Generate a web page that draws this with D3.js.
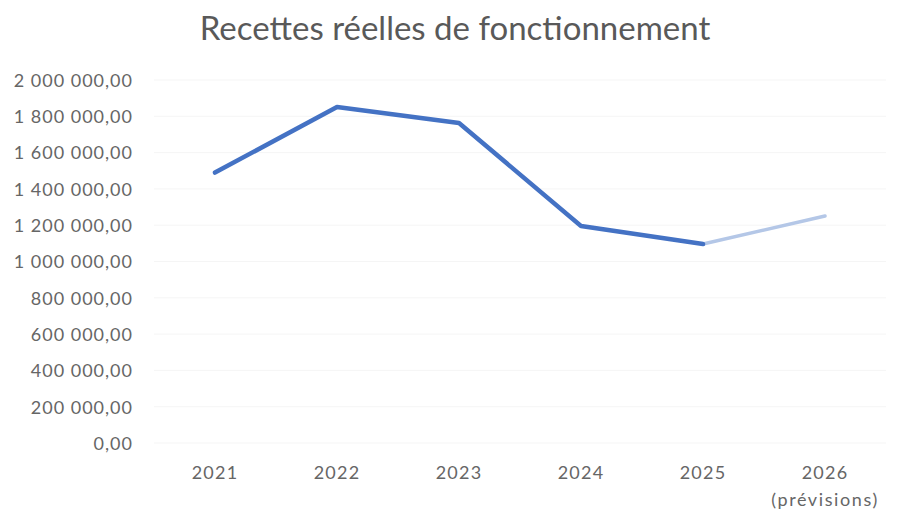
<!DOCTYPE html>
<html>
<head>
<meta charset="utf-8">
<script src="https://cdn.jsdelivr.net/npm/d3@7"></script>
<style>
  body { margin: 0; background: #fff; }
  svg { display: block; }
  svg text { font-family: Lato, "Open Sans", sans-serif; }
  .tick text { fill: #666; }
</style>
</head>
<body>
<script>
const years = ["2021", "2022", "2023", "2024", "2025", "2026"];
const yearNotes = ["", "", "", "", "", "(prévisions)"];
const recettes = [1490000, 1851000, 1763000, 1196000, 1096000, 1251000];
const yTicks = [0, 200000, 400000, 600000, 800000, 1000000, 1200000, 1400000, 1600000, 1800000, 2000000];

const width = 909, height = 512;

// French style number: "1 800 000,00"
function frNum(v) {
    let parts = v.toFixed(2).split(".");
    let intPart = parts[0].replace(/\B(?=(\d{3})+(?!\d))/g, " ");
    return intPart + "," + parts[1];
}

const svg = d3.select("body")
    .append("svg")
    .attr("width", width)
    .attr("height", height);

let x = d3.scaleBand()
    .domain(years)
    .range([154, 886]);

let y = d3.scaleLinear()
    .domain([0, 2000000])
    .range([443, 80]);

// faint gridlines
svg.append("g")
    .selectAll("line")
    .data(yTicks)
    .enter()
    .append("line")
    .attr("x1", 154)
    .attr("x2", 886)
    .attr("y1", d => y(d))
    .attr("y2", d => y(d))
    .attr("stroke", "#f5f5f5")
    .attr("stroke-width", 1);

// y axis labels
svg.append("g")
    .attr("transform", "translate(133,0)")
    .call(d3.axisLeft(y).tickValues(yTicks).tickFormat(frNum).tickSize(0).tickPadding(0))
    .call(g => g.select(".domain").remove())
    .selectAll("text")
    .attr("font-size", 18)
    .attr("letter-spacing", 1)
    .attr("dy", "0.35em");

// x axis labels
const xa = svg.append("g")
    .attr("transform", "translate(0,473)")
    .call(d3.axisBottom(x).tickSize(0).tickPadding(0))
    .call(g => g.select(".domain").remove());
xa.selectAll("text")
    .attr("font-size", 18)
    .attr("letter-spacing", 1.2)
    .attr("dy", "0.35em")
    .attr("y", 0);

svg.append("g")
    .selectAll("text")
    .data(years)
    .enter()
    .append("text")
    .attr("x", d => x(d) + x.bandwidth() / 2)
    .attr("y", 500)
    .attr("dy", "0.35em")
    .attr("text-anchor", "middle")
    .attr("font-size", 18)
    .attr("letter-spacing", 1.6)
    .attr("fill", "#666")
    .text((d, i) => yearNotes[i]);

const pts = years.map((d, i) => ({ x: d, y: recettes[i] }));
const line = d3.line()
    .x(d => x(d.x) + x.bandwidth() / 2)
    .y(d => y(d.y));

// forecast segment, lighter
svg.append("path")
    .attr("d", line(pts.slice(4)))
    .attr("fill", "none")
    .attr("stroke", "#b4c7e7")
    .attr("stroke-width", 3.5)
    .attr("stroke-linecap", "round");

svg.append("path")
    .attr("d", line(pts.slice(0, 5)))
    .attr("fill", "none")
    .attr("stroke", "#4472c4")
    .attr("stroke-width", 4.5)
    .attr("stroke-linejoin", "round")
    .attr("stroke-linecap", "round");

// title
svg.append("text")
    .attr("x", 455)
    .attr("y", 40)
    .attr("text-anchor", "middle")
    .attr("font-size", 33)
    .attr("fill", "#595959")
    .text("Recettes réelles de fonctionnement");
</script>
</body>
</html>
